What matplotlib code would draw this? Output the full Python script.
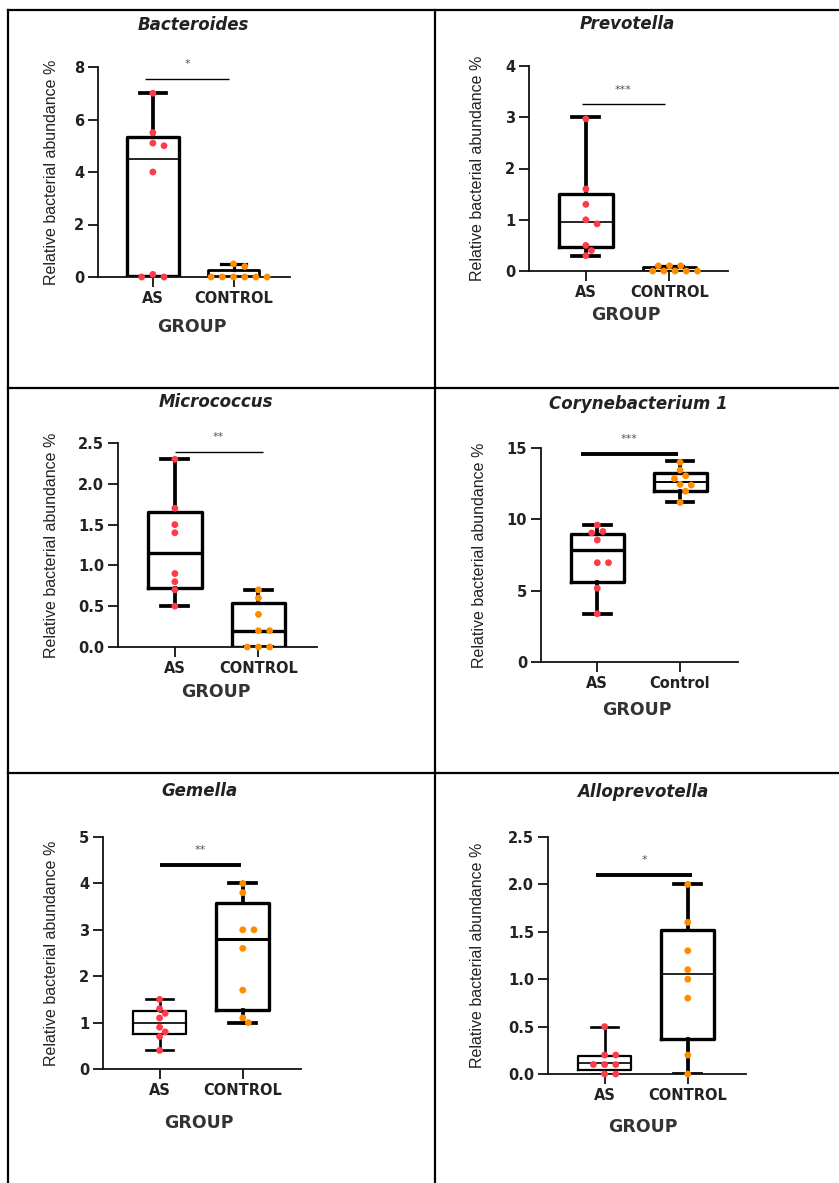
import matplotlib
matplotlib.use("Agg")
import matplotlib.pyplot as plt
from matplotlib.lines import Line2D
import numpy as np

# ---------------- data ----------------
titles = ["Bacteroides", "Prevotella", "Micrococcus", "Corynebacterium 1", "Gemella", "Alloprevotella"]
group_labels = [["AS", "CONTROL"], ["AS", "CONTROL"], ["AS", "CONTROL"],
                ["AS", "Control"], ["AS", "CONTROL"], ["AS", "CONTROL"]]
stars = ["*", "***", "**", "***", "**", "*"]
sig_heights = [7.55, 3.25, 2.39, 14.6, 4.4, 2.1]

yticks = [[0, 2, 4, 6, 8], [0, 1, 2, 3, 4], [0.0, 0.5, 1.0, 1.5, 2.0, 2.5],
          [0, 5, 10, 15], [0, 1, 2, 3, 4, 5], [0.0, 0.5, 1.0, 1.5, 2.0, 2.5]]
ytick_labels = [["0", "2", "4", "6", "8"], ["0", "1", "2", "3", "4"],
                ["0.0", "0.5", "1.0", "1.5", "2.0", "2.5"], ["0", "5", "10", "15"],
                ["0", "1", "2", "3", "4", "5"], ["0.0", "0.5", "1.0", "1.5", "2.0", "2.5"]]

# points (AS, control)
as_points = [
    [7.0, 5.5, 5.1, 5.0, 4.0, 0.1, 0.0, 0.0],
    [2.97, 1.6, 1.3, 1.0, 0.92, 0.5, 0.4, 0.3],
    [2.3, 1.7, 1.5, 1.4, 0.9, 0.8, 0.7, 0.5],
    [9.6, 9.15, 9.05, 8.55, 6.96, 6.96, 5.17, 3.38],
    [1.5, 1.3, 1.2, 1.1, 0.9, 0.8, 0.7, 0.4],
    [0.5, 0.2, 0.2, 0.1, 0.1, 0.1, 0.0, 0.0],
]
ctrl_points = [
    [0.5, 0.4, 0.0, 0.0, 0.0, 0.0, 0.0, 0.0],
    [0.1, 0.1, 0.1, 0.0, 0.0, 0.0, 0.0, 0.0],
    [0.7, 0.6, 0.4, 0.2, 0.2, 0.0, 0.0, 0.0],
    [14.0, 13.45, 13.05, 12.85, 12.45, 12.4, 11.97, 11.18],
    [4.0, 3.8, 3.0, 3.0, 2.6, 1.7, 1.1, 1.0],
    [2.0, 1.6, 1.3, 1.1, 1.0, 0.8, 0.2, 0.0],
]

# box statistics: (whisker low, q1, median, q3, whisker high)
as_box = [
    (0.0, 0.05, 4.5, 5.35, 7.0),
    (0.3, 0.47, 0.95, 1.5, 3.0),
    (0.5, 0.72, 1.15, 1.65, 2.3),
    (3.38, 5.64, 7.85, 8.94, 9.6),
    (0.4, 0.75, 1.0, 1.25, 1.5),
    (0.0, 0.04, 0.12, 0.19, 0.5),
]
ctrl_box = [
    (0.0, 0.0, 0.05, 0.25, 0.5),
    (0.0, 0.0, 0.05, 0.08, 0.1),
    (0.0, 0.0, 0.2, 0.54, 0.7),
    (11.18, 12.02, 12.62, 13.28, 14.07),
    (1.0, 1.28, 2.8, 3.57, 4.0),
    (0.0, 0.37, 1.05, 1.52, 2.0),
]

# ---------------- style / layout ----------------
W, H = 839, 1183
fig = plt.figure(figsize=(W / 100, H / 100), dpi=100)

AS_COLOR = "#ff3b4a"
CTRL_COLOR = "#ff8c00"

# axes rectangles in pixels: left, top, right, bottom
rects = [(98, 67, 290, 277), (529, 66, 728, 271), (118, 443, 317, 647),
         (541, 448, 738, 662), (103, 837, 301, 1069), (548, 837, 746, 1074)]
title_px = [(193, 33), (627, 32), (216, 410), (638, 412), (200, 799), (643, 800)]
group_px = [(192, 327), (626, 315), (216, 692), (637, 710), (199, 1123), (643, 1127)]
ylabel_x = [52, 478, 52, 480, 52, 478]
median_lw = [[1.2, 1.2], [1.2, 1.2], [2.4, 2.4], [2.4, 1.4], [1.2, 2.2], [1.2, 1.2]]
box_lw = [[2.4, 2.0], [2.4, 2.0], [2.4, 2.4], [2.4, 2.4], [1.6, 2.4], [1.6, 2.4]]
sig_lw = [1.0, 1.0, 1.0, 2.8, 2.8, 2.8]
sig_span = [(-0.1, 0.95), (-0.05, 0.95), (0.0, 1.05), (-0.2, 0.98), (0.0, 0.98), (-0.1, 1.05)]

XLIM = (-0.68, 1.70)
BOX_W = 0.64
MARKER_PX = 7.0


def swarm_offsets(ax, values, pos):
    """Simple deterministic beeswarm: spread overlapping points sideways."""
    fig.canvas.draw()
    trans = ax.transData
    x0 = trans.transform((pos, 0))[0]
    x1 = trans.transform((pos + 1, 0))[0]
    px_per_x = x1 - x0
    placed = []
    xs = []
    cands = [0.0]
    for i in range(1, 12):
        cands += [i * MARKER_PX * 0.8, -i * MARKER_PX * 0.8]
    for v in values:
        ypx = trans.transform((pos, v))[1]
        chosen = 0.0
        for c in cands:
            ok = True
            for (px, py) in placed:
                if np.hypot(px - c, py - ypx) < MARKER_PX:
                    ok = False
                    break
            if ok:
                chosen = c
                break
        placed.append((chosen, ypx))
        xs.append(pos + chosen / px_per_x)
    return xs


for i in range(6):
    L, T, R, B = rects[i]
    ax = fig.add_axes([L / W, 1 - B / H, (R - L) / W, (B - T) / H])
    ax.set_xlim(*XLIM)
    ax.set_ylim(0, yticks[i][-1])
    ax.set_facecolor("none")
    for s in ["top", "right"]:
        ax.spines[s].set_visible(False)
    for s in ["left", "bottom"]:
        ax.spines[s].set_linewidth(1.3)
        ax.spines[s].set_color("#111111")

    stats = []
    for box in (as_box[i], ctrl_box[i]):
        wl, q1, med, q3, wh = box
        stats.append(dict(whislo=wl, q1=q1, med=med, q3=q3, whishi=wh, fliers=[]))
    for j, st in enumerate(stats):
        ax.bxp([st], positions=[j], widths=BOX_W, capwidths=BOX_W * 0.5,
               showfliers=False, patch_artist=False,
               boxprops=dict(color="black", linewidth=box_lw[i][j]),
               whiskerprops=dict(color="black", linewidth=box_lw[i][j] + 0.3),
               capprops=dict(color="black", linewidth=box_lw[i][j] + 0.3),
               medianprops=dict(color="black", linewidth=median_lw[i][j]),
               manage_ticks=False)

    for j, (vals, col) in enumerate(((as_points[i], AS_COLOR), (ctrl_points[i], CTRL_COLOR))):
        xs = swarm_offsets(ax, vals, j)
        ax.scatter(xs, vals, s=24, color=col, edgecolors="none", zorder=5, clip_on=False)

    ax.set_xticks([0, 1])
    ax.set_xticklabels(group_labels[i], fontsize=10.5, fontweight="bold", color="#222222")
    ax.set_yticks(yticks[i])
    ax.set_yticklabels(ytick_labels[i], fontsize=10.5, fontweight="bold", color="#222222")
    ax.tick_params(axis="both", length=7, width=1.3, color="#111111", pad=3)

    # significance bar
    x_a, x_b = sig_span[i]
    ax.plot([x_a, x_b], [sig_heights[i], sig_heights[i]], color="black",
            linewidth=sig_lw[i], solid_capstyle="butt", clip_on=False)
    ax.annotate(stars[i], xy=((x_a + x_b) / 2, sig_heights[i]), xytext=(0, 7),
                textcoords="offset points", ha="center", va="bottom",
                fontsize=8, color="#555555", annotation_clip=False)

    # title
    tx, ty = title_px[i]
    ax.set_title(titles[i], fontsize=12, fontweight="bold", style="italic",
                 color="#222222", x=(tx - L) / (R - L), y=(B - ty) / (B - T), va="center")
    # x label
    gx, gy = group_px[i]
    ax.set_xlabel("GROUP", fontsize=12.5, fontweight="bold", color="#333333", va="center")
    ax.xaxis.set_label_coords((gx - L) / (R - L), (B - gy) / (B - T))
    # y label
    ax.set_ylabel("Relative bacterial abundance %", fontsize=11.5, family="Liberation Sans",
                  color="#222222", va="center")
    ax.yaxis.set_label_coords((ylabel_x[i] - L) / (R - L), 0.5)

# table-like frame lines
frame = [((8, 839), (10, 10)), ((8, 8), (10, 1183)), ((435, 435), (10, 1183)),
         ((8, 839), (388, 388)), ((8, 839), (773, 773))]
for (xx, yy) in frame:
    fig.add_artist(Line2D([x / W for x in xx], [1 - y / H for y in yy],
                          color="black", linewidth=1.6))

fig.savefig("out.png", dpi=100)
